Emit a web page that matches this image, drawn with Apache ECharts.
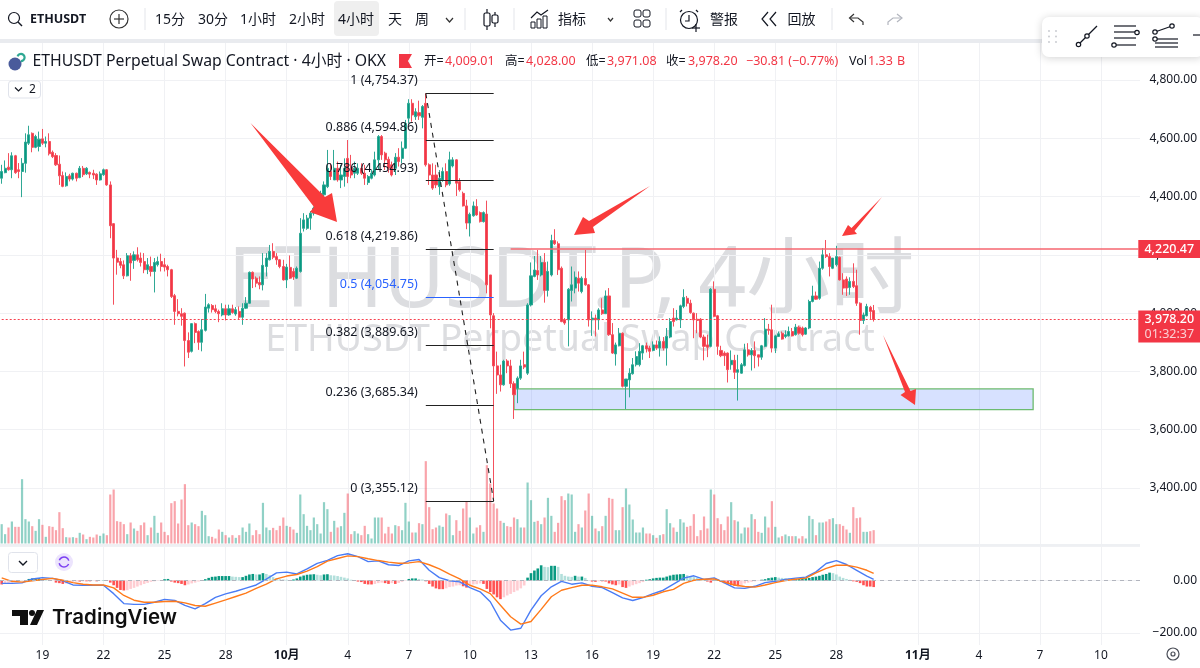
<!DOCTYPE html>
<html>
<head>
<meta charset="utf-8">
<title>ETHUSDT 4小时</title>
<script src="https://cdn.jsdelivr.net/npm/echarts@6/dist/echarts.min.js"></script>
<style>
html,body{margin:0;padding:0;background:#fff}
#main{width:1200px;height:668px}
</style>
</head>
<body>
<div id="main"></div>
<script>
// 4h bars, [open, close, low, high]
var candles = [
[4463,4486,4444,4509],[4482,4497,4480,4524],[4501,4492,4489,4549],[4492,4540,4463,4552],[4540,4482,4478,4543],
[4492,4486,4463,4515],[4486,4514,4398,4532],[4514,4587,4482,4617],[4583,4612,4577,4643],[4617,4569,4552,4620],
[4569,4606,4566,4612],[4572,4597,4555,4623],[4598,4583,4577,4632],[4583,4589,4569,4606],[4589,4547,4541,4617],
[4552,4537,4532,4558],[4541,4509,4505,4549],[4511,4471,4440,4541],[4472,4435,4432,4486],[4437,4469,4434,4483],
[4471,4460,4452,4478],[4460,4480,4455,4482],[4480,4463,4452,4482],[4465,4497,4463,4505],[4497,4475,4467,4505],
[4478,4497,4474,4501],[4483,4477,4463,4486],[4480,4474,4460,4492],[4477,4457,4440,4480],[4457,4478,4455,4486],
[4475,4492,4471,4496],[4492,4440,4437,4494],[4440,4300,4257,4452],[4307,4189,4029,4309],[4189,4175,4132,4217],
[4177,4164,4154,4189],[4166,4128,4117,4181],[4128,4197,4126,4206],[4197,4172,4111,4206],[4181,4200,4152,4212],
[4200,4183,4177,4226],[4189,4174,4160,4208],[4177,4149,4137,4206],[4149,4166,4134,4189],[4160,4143,4126,4194],
[4143,4174,4071,4189],[4166,4177,4160,4194],[4177,4160,4143,4204],[4166,4158,4143,4189],[4160,4149,4126,4166],
[4149,4057,4052,4152],[4060,4006,3960,4066],[4006,3998,3989,4048],[3998,3989,3957,4017],[4000,3906,3817,4002],
[3906,3866,3846,3934],[3869,3964,3865,3966],[3964,3934,3897,3968],[3937,3900,3874,3941],[3900,3943,3869,3980],
[3941,4021,3937,4066],[4017,4029,4002,4034],[4026,4012,4002,4031],[4015,4006,4000,4029],[4006,3998,3969,4012],
[3994,4015,3989,4034],[4015,3994,3975,4029],[3994,4015,3991,4029],[4015,4002,3998,4029],[3997,4012,3991,4021],
[4006,3986,3980,4023],[3986,4017,3960,4034],[4017,4034,4014,4055],[4034,4140,4032,4143],[4140,4117,4086,4143],
[4120,4103,4089,4126],[4105,4097,4082,4126],[4097,4164,4078,4206],[4160,4189,4126,4206],[4183,4212,4181,4234],
[4212,4192,4185,4240],[4194,4183,4166,4206],[4183,4160,4154,4185],[4160,4114,4112,4183],[4114,4158,4086,4169],
[4157,4120,4117,4198],[4143,4124,4114,4154],[4120,4154,4117,4160],[4143,4274,4139,4326],[4291,4320,4280,4343],
[4291,4326,4286,4337],[4326,4343,4286,4350],[4343,4360,4335,4366],[4360,4394,4355,4400],[4391,4411,4385,4420],
[4406,4440,4400,4452],[4434,4497,4429,4560],[4486,4469,4457,4514],[4457,4497,4457,4560],[4497,4457,4451,4520],
[4457,4474,4429,4509],[4469,4497,4434,4531],[4531,4469,4446,4594],[4497,4474,4463,4543],[4480,4497,4463,4520],
[4480,4497,4474,4514],[4497,4480,4474,4514],[4480,4463,4440,4509],[4448,4469,4440,4474],[4463,4480,4459,4491],
[4474,4526,4469,4554],[4526,4606,4494,4611],[4606,4543,4526,4611],[4549,4526,4491,4554],[4528,4497,4482,4537],
[4509,4474,4469,4520],[4497,4535,4474,4549],[4535,4520,4503,4566],[4531,4566,4514,4589],[4566,4651,4563,4663],
[4669,4720,4651,4734],[4720,4680,4657,4734],[4674,4691,4663,4703],[4688,4677,4663,4729],[4672,4709,4634,4714],
[4720,4509,4503,4754],[4509,4474,4440,4514],[4474,4429,4423,4514],[4474,4440,4429,4509],[4434,4463,4406,4491],
[4457,4486,4451,4500],[4486,4440,4432,4514],[4443,4526,4437,4554],[4505,4526,4500,4535],[4526,4446,4402,4528],
[4451,4423,4417,4463],[4411,4368,4366,4417],[4368,4309,4288,4389],[4309,4339,4263,4345],[4334,4368,4331,4383],
[4366,4337,4334,4391],[4345,4314,4311,4349],[4314,4345,4311,4349],[4340,4097,4068,4386],[4131,3994,3948,4131],
[3991,3819,3355,4000],[3819,3788,3723,3868],[3788,3754,3731,3823],[3754,3836,3751,3840],[3836,3819,3794,3842],
[3819,3758,3743,3840],[3758,3720,3637,3766],[3742,3777,3691,3783],[3777,3819,3771,3840],[3823,3815,3808,3868],
[3794,4028,3788,4034],[4028,4128,4023,4174],[4126,4148,4123,4196],[4146,4131,4114,4217],[4131,4174,4126,4196],
[4174,4078,4036,4206],[4078,4143,4057,4177],[4131,4249,4126,4269],[4249,4238,4234,4288],[4238,4149,4131,4246],
[4154,3971,3969,4160],[3977,3966,3960,3983],[3977,4082,3886,4086],[4078,4097,4040,4160],[4086,4123,4068,4143],
[4120,4103,4074,4143],[4074,4120,4068,4126],[4119,4097,4094,4217],[4097,3977,3954,4100],[3977,3983,3922,4006],
[3983,3977,3920,3995],[3977,4011,3943,4017],[4011,3998,3994,4051],[3998,4059,3998,4078],[4059,3926,3922,4086],
[3926,3863,3860,3966],[3860,3891,3820,3899],[3888,3931,3886,3949],[3931,3749,3745,3934],[3749,3774,3671,3774],
[3771,3794,3711,3811],[3792,3823,3789,3846],[3823,3851,3817,3869],[3823,3869,3817,3897],[3863,3888,3840,3891],
[3888,3877,3865,3899],[3880,3869,3846,3888],[3872,3891,3869,3903],[3891,3880,3874,3906],[3880,3903,3851,3920],
[3903,3880,3872,3918],[3880,3920,3820,3949],[3918,3971,3914,3983],[3983,3971,3954,4017],[3977,3983,3975,4011],
[3977,4025,3949,4029],[4023,4054,4017,4082],[4051,4034,4023,4059],[4034,4002,3998,4046],[4000,3977,3914,4002],
[3979,3975,3931,4000],[3979,3918,3914,3983],[3918,3886,3838,3926],[3891,3883,3849,3926],[3886,4082,3883,4086],
[4082,3989,3986,4109],[3991,3886,3857,3994],[3872,3854,3849,3888],[3863,3854,3819,3869],[3863,3806,3762,3865],
[3823,3838,3806,3872],[3838,3797,3774,3857],[3797,3806,3700,3857],[3794,3823,3792,3829],[3820,3874,3817,3895],
[3874,3857,3851,3897],[3857,3872,3803,3880],[3872,3854,3811,3903],[3857,3849,3817,3857],[3849,3888,3840,3891],
[3886,3945,3883,3983],[3945,3941,3926,3963],[3943,3880,3865,4029],[3880,3922,3863,3926],[3920,3929,3918,3937],
[3931,3911,3909,3937],[3920,3926,3914,3941],[3922,3937,3920,3954],[3937,3922,3920,3949],[3926,3952,3923,3963],
[3952,3931,3926,3957],[3949,3926,3920,3954],[3928,3949,3926,3952],[3949,4040,3945,4046],[4040,4059,4037,4094],
[4059,4048,4046,4074],[4051,4154,4046,4177],[4154,4200,4149,4223],[4200,4194,4189,4251],[4194,4160,4126,4206],
[4154,4189,4151,4189],[4166,4194,4160,4231],[4192,4114,4112,4194],[4114,4086,4063,4137],[4117,4086,4059,4126],
[4088,4109,4063,4123],[4109,4091,4086,4171],[4094,4034,4025,4149],[4034,3975,3926,4037],[3975,3994,3963,4002],
[3991,4023,3989,4032],[4020,4006,3977,4025],[4009.01,3978.2,3971.08,4028]
];

// volume, unit about 33 million (last bar 40 = 1.33B)
var volumes = [
58,28,48,66,50,50,193,73,66,52,
38,73,56,20,52,50,40,94,46,19,
18,19,17,32,27,13,20,18,27,23,
30,25,147,162,67,65,58,28,63,45,
38,55,63,25,48,83,32,63,35,25,
121,127,60,132,178,55,63,58,52,98,
85,22,20,15,42,35,25,18,25,17,
25,48,35,60,25,40,28,122,48,40,
47,40,53,78,53,50,42,32,147,88,
53,40,78,58,30,124,103,35,68,48,
52,92,150,28,37,30,25,53,28,15,
78,78,78,30,50,30,55,52,40,122,
66,33,33,61,58,247,109,43,48,54,
50,90,85,25,70,38,105,127,78,30,
48,55,35,235,180,120,105,68,62,52,
50,78,73,48,48,183,130,65,68,58,
78,137,83,35,62,142,130,150,147,35,
58,48,99,150,83,45,37,52,83,137,
134,40,40,109,165,117,72,33,33,48,
30,30,25,17,25,28,103,61,48,35,
73,63,50,53,88,22,40,81,45,162,
147,76,58,40,81,124,70,66,30,48,
48,88,73,35,32,81,48,127,50,18,
22,27,22,22,22,15,22,15,83,73,
25,63,63,66,73,76,58,58,53,42,
32,109,76,78,35,35,37,40
];

var macdHist = [
-15,-13,-10,-8,-4,-3,-1,1,6,8,9,9,6,4,1,0,-8,-10,-13,-11,-8,
-5,-4,-4,-3,-3,-3,-1,-3,0,1,-1,-8,-18,-28,-36,-38,
-37,-32,-28,-23,-18,-13,-9,-5,-3,-1,1,5,6,
-4,-8,-10,-13,-18,-15,-11,-8,-4,-1,
5,10,14,15,17,17,17,17,15,14,13,13,
18,23,25,23,23,28,25,20,13,9,5,4,3,1,4,8,
15,19,22,23,24,22,20,23,24,20,19,17,14,11,8,3,
-1,-4,-6,-13,-15,-15,-13,-10,-8,-10,-13,-10,-13,-9,-5,-1,
6,8,8,6,4,-3,-13,-23,-30,-33,-33,-30,-25,
-23,-19,-18,-22,-27,-20,-15,-14,-11,-13,
-32,-44,-53,-64,-71,-64,-57,-51,-44,-38,-30,-19,
11,28,38,46,58,52,51,56,56,52,
25,18,15,14,18,15,15,10,1,
-4,-5,-3,-3,-4,-11,-15,-18,-15,-25,-28,-23,-18,-14,-10,-6,
3,5,8,10,11,11,15,19,22,23,24,25,20,17,13,10,6,4,
-4,-8,3,3,-5,-10,-15,-18,-20,-22,-18,-11,-8,-5,-3,-1,
3,5,9,11,13,11,10,9,8,6,6,6,8,9,
10,13,15,18,22,25,30,28,23,15,10,6,3,
-3,-5,-10,-18,-23,-23,-25
];

// macd lines read every third bar
var macdIndex = [
0,3,6,9,12,15,18,21,24,27,30,33,36,39,42,45,48,51,54,57,60,63,66,69,72,75,78,81,84,87,
90,93,96,99,102,105,108,111,114,117,120,123,126,129,132,135,138,141,144,147,150,153,156,159,
162,165,168,171,174,177,180,183,186,189,192,195,198,201,204,207,210,213,216,219,222,225,228,
231,234,237,240,243,246,249,252,255,257
];
var macdDif = [
-11,-11,-9,6,11,8,-1,-17,-18,-18,-18,-50,-88,-91,-91,-83,-72,-76,-95,-108,-88,-64,-51,-41,-29,-17,5,29,32,25,
44,65,77,95,102,91,72,75,60,57,75,80,39,11,-1,-5,-27,-43,-81,-151,-189,-182,-113,-58,
-24,-3,-14,-9,-22,-27,-46,-66,-76,-65,-50,-37,-14,9,18,4,10,-9,-28,-30,-22,-8,-3,
4,9,13,33,65,76,61,39,17,4
];
var macdDea = [
10,-3,-6,-1,4,8,1,-8,-14,-17,-17,-28,-57,-75,-83,-83,-80,-79,-85,-95,-98,-86,-74,-61,-48,-30,-14,6,17,23,
36,53,74,84,94,91,83,76,70,66,67,72,60,44,24,6,-18,-32,-50,-94,-138,-166,-156,-110,
-62,-37,-27,-18,-18,-24,-32,-48,-64,-64,-56,-43,-34,-11,1,5,6,-6,-17,-23,-25,-17,-8,
0,5,9,29,46,58,58,51,39,27
];

// fib retracement levels
var fibRatios = ['1','0.886','0.786','0.618','0.5','0.382','0.236','0'];
var fibPrices = [4754.37,4594.86,4454.93,4219.86,4054.75,3889.63,3685.34,3355.12];
var fibStart = 125, fibEnd = 145;

var resistance = 4220.47;
var lastPrice = 3978.2;
var zoneTop = 3740, zoneBottom = 3669, zoneStart = 151, zoneEnd = 304;

var barCount = 336;
var tickIndex = [12,30,48,66,84,102,120,138,156,174,192,210,228,246,270,288,306,324];
var tickLabels = ['19','22','25','28','10月','4','7','10','13','16','19','22','25','28','11月','4','7','10'];

var UP = '#089981', DOWN = '#f23645';
var FONT = '"Noto Sans","Noto Sans CJK SC",sans-serif';
var GRID = '#f0f1f4';
var INK = '#131722';

var categories = [];
for (var i = 0; i < barCount; i++) categories.push(String(i));

function isTick(idx) { return tickIndex.indexOf(idx) >= 0; }
function money(v) {
    return v.toLocaleString('en-US', {minimumFractionDigits: 2, maximumFractionDigits: 2}).replace('-', '\u2212');
}

function xAxisFor(gridIndex, withLabels) {
    return {
        type: 'category', gridIndex: gridIndex, data: categories, boundaryGap: true,
        axisLine: {show: false}, axisTick: {show: false},
        axisLabel: withLabels ? {
            show: true, interval: function (idx) { return isTick(idx); }, margin: 5,
            color: INK, fontFamily: FONT, fontSize: 12,
            formatter: function (v, idx) {
                var s = tickLabels[tickIndex.indexOf(idx)] || '';
                return s.indexOf('月') > 0 ? '{b|' + s + '}' : s;
            },
            rich: {b: {fontWeight: 'bold', fontFamily: FONT, fontSize: 12, color: INK}}
        } : {show: false},
        splitLine: {
            show: gridIndex !== 1, alignWithLabel: true,
            interval: function (idx) { return isTick(idx); },
            lineStyle: {color: GRID, width: 1}
        }
    };
}

var tagRich = {
    a: {color: '#fff', fontFamily: FONT, fontSize: 12.5, fontWeight: 500, width: 54, align: 'center', lineHeight: 15},
    c: {color: '#fbd0d4', fontFamily: FONT, fontSize: 12.5, width: 54, align: 'center', lineHeight: 15}
};

// toolbar + legend drawing helpers
var gfx = [];
function T(x, y, s, o) {
    o = o || {};
    gfx.push({type: 'text', z: o.z === undefined ? 100 : o.z, silent: true, style: {
        x: x, y: y, text: s, fill: o.c || INK,
        font: (o.w || 'normal') + ' ' + (o.s || 14) + 'px ' + (o.f || FONT),
        textAlign: o.a || 'left', textVerticalAlign: 'middle', align: o.a || 'left', verticalAlign: 'middle'
    }});
}
function P(pts, c, w, fill) {
    gfx.push({type: fill ? 'polygon' : 'polyline', z: 100, silent: true,
        shape: {points: pts},
        style: fill ? {fill: c} : {stroke: c || INK, lineWidth: w || 1.2, fill: null}});
}
function R(x, y, w, h, o) {
    gfx.push({type: 'rect', z: o.z || 100, silent: true, shape: {x: x, y: y, width: w, height: h, r: o.r || 0},
        style: {fill: o.fill || null, stroke: o.stroke || null, lineWidth: o.lw || 1,
            shadowBlur: o.blur || 0, shadowColor: o.blur ? 'rgba(0,0,0,0.18)' : null, shadowOffsetY: o.blur ? 1 : 0}});
}
function C(cx, cy, r, o) {
    gfx.push({type: 'circle', z: 101, silent: true, shape: {cx: cx, cy: cy, r: r},
        style: {fill: o.fill || null, stroke: o.stroke || null, lineWidth: o.lw || 1.2}});
}
function A(cx, cy, r, a0, a1, c, w) {
    gfx.push({type: 'arc', z: 101, silent: true, shape: {cx: cx, cy: cy, r: r, startAngle: a0, endAngle: a1},
        style: {stroke: c, lineWidth: w || 1.5, fill: null}});
}

// watermark sits under the series
T(571, 283, 'ETHUSDT.P, 4小时', {s: 84, c: '#dcdde0', a: 'center', z: 0});
T(570, 340, 'ETHUSDT Perpetual Swap Contract', {s: 37.5, c: '#dcdde0', a: 'center', z: 0});

// top toolbar
R(0, 0, 1200, 39, {fill: '#fff'});
R(0, 39, 1200, 4, {fill: '#e9ebef'});
C(14, 18, 5.5, {stroke: INK});
P([[18, 22], [22, 26]], INK, 1.4);
T(30, 19, 'ETHUSDT', {w: 'bold', s: 12.5});
C(119, 19, 9, {stroke: '#333'});
P([[114, 19], [124, 19]], '#333');
P([[119, 14], [119, 24]], '#333');
[145, 465, 514, 666, 832].forEach(function (x) { P([[x, 8], [x, 30]], '#e3e5ea', 1); });
R(334, 1, 45, 35, {fill: '#efefef', r: 4});
T(155, 20, '15分'); T(198, 20, '30分'); T(240, 20, '1小时'); T(289, 20, '2小时');
T(338, 20, '4小时'); T(388, 20, '天'); T(415, 20, '周');
P([[446, 18], [449.5, 22], [453, 18]], '#333');
P([[487, 9], [487, 30]], INK); R(484, 13, 6, 13, {fill: '#fff', stroke: INK, r: 1.5, lw: 1.2, z: 101});
P([[495, 12], [495, 27]], INK); R(492, 15, 6, 8, {fill: '#fff', stroke: INK, r: 1.5, lw: 1.2, z: 101});
P([[531, 18], [537, 12], [541, 15], [548, 10]], INK);
R(531, 22, 4, 6, {stroke: INK}); R(537, 19, 4, 9, {stroke: INK}); R(543, 16, 4, 12, {stroke: INK});
T(558, 20, '指标');
P([[608, 18], [610.5, 21], [613, 18]], '#333');
R(634, 10, 7, 7, {stroke: INK, r: 2}); R(643, 10, 7, 7, {stroke: INK, r: 2});
R(634, 20, 7, 7, {stroke: INK, r: 2}); R(643, 20, 7, 7, {stroke: INK, r: 2});
C(689, 20, 8.5, {stroke: INK});
P([[689, 15], [689, 21], [685, 21]], INK);
P([[682, 10], [680, 12]], INK); P([[696, 10], [698, 12]], INK);
P([[692, 28], [700, 28]], INK); P([[696, 24], [696, 32]], INK);
T(710, 20, '警报');
P([[768, 12], [762, 19], [768, 26]], INK); P([[776, 12], [770, 19], [776, 26]], INK);
T(787.5, 20, '回放');
P([[854, 14], [849.5, 18], [854, 22]], '#333'); P([[850, 18], [858, 18], [863, 22], [863, 25]], '#333');
P([[897, 14], [902, 18], [897, 22]], '#b2b5be'); P([[901, 18], [893, 18], [888, 22], [888, 25]], '#b2b5be');

// floating drawing toolbar
R(1042, 17, 162, 40, {fill: '#fff', r: 7, blur: 9});
[1049, 1056].forEach(function (x) {
    [31, 36.5, 42].forEach(function (y) { C(x, y, 0.9, {fill: '#c4c6cc'}); });
});
P([[1077, 46], [1097, 26]], INK); C(1078.5, 44.5, 2.2, {fill: '#fff', stroke: INK}); C(1087, 36, 2.2, {fill: '#fff', stroke: INK});
P([[1114, 26], [1136, 26]], INK); P([[1114, 32], [1135, 32]], INK); P([[1114, 38], [1136, 38]], INK); P([[1116, 45], [1136, 45]], INK);
C(1137, 32.5, 2.2, {fill: '#fff', stroke: INK}); C(1114, 45, 2.2, {fill: '#fff', stroke: INK});
P([[1155, 32], [1172, 26]], INK); C(1172, 26, 2.2, {fill: '#fff', stroke: INK}); C(1155, 32, 2.2, {fill: '#fff', stroke: INK}); C(1155, 39, 2.2, {fill: '#fff', stroke: INK});
P([[1157, 39], [1178, 39]], INK); P([[1155, 43], [1178, 43]], INK); P([[1155, 47], [1178, 47]], INK);
P([[1193, 35], [1200, 35]], INK);

// legend row
C(15, 64, 6.5, {fill: '#4a5b9b'});
A(21, 57.5, 3.6, -2.8, 1.6, '#2fa893', 2.2);
T(32.5, 61.5, 'ETHUSDT Perpetual Swap Contract · 4小时 · OKX', {s: 15.8});
P([[399, 54], [412, 54], [408, 61], [412, 68], [399, 68]], DOWN, 0, true);
var legendRow = [[424, '开='], [445, '4,009.01', 1], [505, '高='], [526, '4,028.00', 1], [586, '低='], [607, '3,971.08', 1],
    [666, '收='], [688, '3,978.20', 1], [746, '\u221230.81 (\u22120.77%)', 1], [849, 'Vol'], [868, '1.33', 1], [897, 'B', 1]];
legendRow.forEach(function (e) { T(e[0], 61.5, e[1], {s: 12.5, c: e[2] ? DOWN : INK}); });
R(8.5, 81, 32, 17, {fill: '#fff', stroke: '#e0e3eb', r: 3});
P([[15, 87.5], [18.5, 91], [22, 87.5]], INK);
T(29, 89.5, '2', {s: 12});

// hand drawn arrows
var ARROW = '#f93b3b';
P([[250.5, 123], [325, 197], [332, 193], [337, 222], [310, 212], [314, 207]], ARROW, 0, true);
P([[574, 235], [583, 217], [589, 221], [650, 186], [593, 227], [595, 233]], ARROW, 0, true);
P([[842, 236], [848, 225], [851.5, 228], [882, 197], [854.5, 231], [857, 234]], ARROW, 0, true);
P([[883, 335], [910.5, 391], [916, 389], [915, 405], [900.5, 395], [905, 392]], ARROW, 0, true);

// pane furniture
P([[0, 545], [1140, 545]], '#eef0f3', 2);
R(8.5, 552.5, 29, 20, {fill: '#fff', stroke: '#e0e3eb', r: 3});
P([[19, 561], [23, 565], [27, 561]], INK, 1.4);
C(64, 562, 9, {fill: '#ece4fd'});
A(64, 562, 5, 0.4, 2.9, '#7b3ff2');
A(64, 562, 5, 3.5, 6.0, '#7b3ff2');
P([[12, 610], [28, 610], [28, 625], [20, 625], [20, 616], [12, 616]], '#0f0f0f', 0, true);
C(32, 613, 3, {fill: '#0f0f0f'});
P([[44, 610], [37, 625], [30, 625], [37, 610]], '#0f0f0f', 0, true);
T(52, 618, 'TradingView', {s: 20.5, w: 600, f: 'Inter,sans-serif', c: '#0f0f0f'});
C(1173, 654, 6, {stroke: '#4a4e58'});
C(1173, 654, 2, {stroke: '#4a4e58'});

var option = {
    animation: false,
    backgroundColor: '#fff',
    graphic: {elements: gfx},
    grid: [
        {left: 0, width: 1140, top: 21.7, height: 524.6},
        {left: 0, width: 1140, top: 443.5, height: 100},
        {left: 0, width: 1140, top: 546, height: 99}
    ],
    xAxis: [xAxisFor(0, false), xAxisFor(1, false), xAxisFor(2, true)],
    yAxis: [
        {
            type: 'value', gridIndex: 0, position: 'right', min: 3200, max: 5000, interval: 200,
            axisLine: {show: false}, axisTick: {show: false},
            axisLabel: {
                margin: 57, align: 'right', color: INK, fontFamily: FONT, fontSize: 12,
                formatter: function (v) { return (v === 5000 || v === 3200) ? '' : money(v); }
            },
            splitLine: {lineStyle: {color: GRID, width: 1}}
        },
        {type: 'value', gridIndex: 1, min: 0, max: 300, show: false},
        {
            type: 'value', gridIndex: 2, position: 'right', min: -245.7, max: 131.5,
            axisLine: {show: false},
            axisTick: {show: false, customValues: [-200, 0]},
            axisLabel: {
                customValues: [-200, 0], margin: 57, align: 'right', color: INK, fontFamily: FONT, fontSize: 12,
                formatter: function (v) { return money(v); }
            },
            splitLine: {lineStyle: {color: GRID, width: 1}}
        }
    ],
    series: [
        {
            name: 'Vol', type: 'bar', xAxisIndex: 1, yAxisIndex: 1, barWidth: 2.2, z: 1,
            data: volumes,
            itemStyle: {
                color: function (p) {
                    var c = candles[p.dataIndex];
                    return c[1] >= c[0] ? 'rgba(8,153,129,0.45)' : 'rgba(242,54,69,0.45)';
                }
            }
        },
        {
            name: 'ETHUSDT', type: 'candlestick', xAxisIndex: 0, yAxisIndex: 0, barWidth: 2.6, z: 3,
            data: candles,
            itemStyle: {
                color: UP, color0: DOWN, borderColor: '#2fa895', borderColor0: '#f4505d', borderWidth: 1
            },
            markArea: {
                silent: true, z: 2,
                itemStyle: {color: 'rgba(41,98,255,0.19)', borderColor: '#6dbb6f', borderWidth: 1.3},
                data: [[{coord: [zoneStart, zoneTop]}, {coord: [zoneEnd, zoneBottom]}]]
            },
            markLine: {
                silent: true, symbol: 'none', label: {show: false}, z: 4,
                data: [
                    [{coord: [150, resistance], lineStyle: {color: '#f6666f', width: 1.6, type: 'solid', opacity: 1}}, {coord: [335, resistance]}],
                    [{coord: [0, lastPrice], lineStyle: {color: '#f7404e', width: 1.2, type: [2, 2], opacity: 1}}, {coord: [335, lastPrice]}]
                ]
            }
        },
        {
            name: 'fib', type: 'scatter', xAxisIndex: 0, yAxisIndex: 0, symbolSize: 0, z: 5,
            itemStyle: {opacity: 1},
            data: fibPrices.map(function (p, k) {
                var blue = fibRatios[k] === '0.5';
                return {
                    value: [fibStart, p],
                    label: {
                        show: true, position: 'left', distance: 8, offset: [0, -12.5],
                        formatter: fibRatios[k] + ' (' + money(p) + ')',
                        color: blue ? '#2962ff' : INK, fontFamily: FONT, fontSize: 12.5
                    }
                };
            }),
            markLine: {
                silent: true, symbol: 'none', label: {show: false},
                data: fibPrices.map(function (p, k) {
                    return [
                        {coord: [fibStart, p], lineStyle: {color: fibRatios[k] === '0.5' ? '#2962ff' : '#222', width: 1.1, type: 'solid', opacity: 1}},
                        {coord: [fibEnd, p]}
                    ];
                }).concat([[
                    {coord: [fibStart, fibPrices[0]], lineStyle: {color: '#222', width: 1.1, type: [5, 5], opacity: 1}},
                    {coord: [fibEnd, fibPrices[7]]}
                ]])
            }
        },
        {
            name: 'tags', type: 'scatter', xAxisIndex: 0, yAxisIndex: 0, symbolSize: 0, z: 6,
            itemStyle: {opacity: 1},
            data: [
                {
                    value: [335, resistance],
                    label: {show: true, position: 'right', distance: 0, formatter: '{a|' + money(resistance) + '}',
                        backgroundColor: DOWN, padding: [2, 4, 1, 4], rich: tagRich}
                },
                {
                    value: [335, lastPrice],
                    label: {show: true, position: 'right', distance: 0, offset: [0, 7],
                        formatter: '{a|' + money(lastPrice) + '}\n{c|01:32:37}',
                        backgroundColor: DOWN, padding: [1, 4, 1, 4], rich: tagRich}
                }
            ]
        },
        {
            name: 'hist', type: 'bar', xAxisIndex: 2, yAxisIndex: 2, barWidth: 2.6,
            data: macdHist,
            itemStyle: {
                color: function (p) {
                    var v = macdHist[p.dataIndex], prev = p.dataIndex ? macdHist[p.dataIndex - 1] : 0;
                    if (v >= 0) return v >= prev ? '#089981' : '#b2dfdb';
                    return v <= prev ? '#ff5252' : '#ffcdd2';
                }
            },
            markLine: {
                silent: true, symbol: 'none', label: {show: false},
                lineStyle: {color: '#b2b5be', type: [4, 4], width: 1, opacity: 1},
                data: [{yAxis: 0}]
            }
        },
        {
            name: 'DIF', type: 'line', xAxisIndex: 2, yAxisIndex: 2, showSymbol: false, z: 4,
            lineStyle: {color: '#4a7cf5', width: 1.4},
            data: macdIndex.map(function (x, k) { return [x, macdDif[k]]; })
        },
        {
            name: 'DEA', type: 'line', xAxisIndex: 2, yAxisIndex: 2, showSymbol: false, z: 4,
            lineStyle: {color: '#ff7a1a', width: 1.4},
            data: macdIndex.map(function (x, k) { return [x, macdDea[k]]; })
        }
    ]
};

var myChart = echarts.init(document.getElementById('main'));
myChart.setOption(option);
</script>
</body>
</html>
